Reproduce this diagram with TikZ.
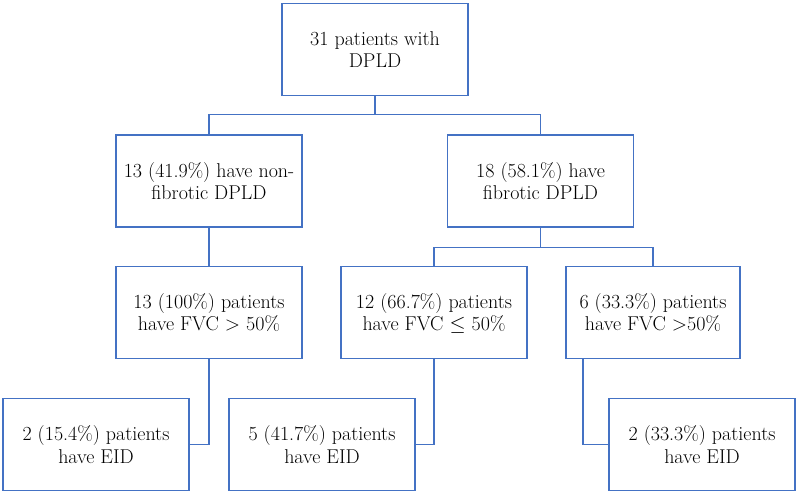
\documentclass[tikz,border=0pt]{standalone}
\usepackage{fontspec}
\usepackage{tikz}
\usetikzlibrary{positioning, calc}
\definecolor{boxblue}{HTML}{4472C4}

\begin{document}
\begin{tikzpicture}[x=1pt, y=-1pt,
        box/.style={rectangle, draw=boxblue, line width=1.4pt, minimum width=186pt, minimum height=92pt, inner sep=0pt, align=center, font=\fontsize{20}{22.5}\selectfont},
        link/.style={draw=boxblue, line width=1.4pt}]
        \useasboundingbox (0,0) rectangle (797,493);
        % Top node
        \node[box] (total) at (375,49.5) {31 patients with\\DPLD};
        
        % Type nodes
        \node[box] (nonfib) at (209,181) {13 (41.9\%) have non-\\fibrotic DPLD};
        \node[box] (fib) at (540.5,181) {18 (58.1\%) have\\fibrotic DPLD};
        
        % FVC nodes
        \node[box] (fvcA) at (209,312.5) {13 (100\%) patients\\have FVC > 50\%};
        \node[box] (fvcB) at (434,312.5) {12 (66.7\%) patients\\have FVC \smash{$\leq$} 50\%};
        \node[box, minimum width=174pt] (fvcC) at (653,312.5) {6 (33.3\%) patients\\have FVC >50\%};
        
        % EID nodes
        \node[box] (eidA) at (96,444.5) {2 (15.4\%) patients\\have EID};
        \node[box] (eidB) at (322,444.5) {5 (41.7\%) patients\\have EID};
        \node[box] (eidC) at (702,444.5) {2 (33.3\%) patients\\have EID};
        
        % Lines
        \draw[link] (total.south) -- ++(0,18) -| (nonfib.north);
        \draw[link] (total.south) -- ++(0,18) -| (fib.north);
        \draw[link] (nonfib.south) -- (fvcA.north);
        \draw[link] (fib.south) -- ++(0,20) -| (fvcB.north);
        \draw[link] (fib.south) -- ++(0,20) -| (fvcC.north);
        \draw[link] (fvcA.south) |- (eidA.east);
        \draw[link] (fvcB.south) |- (eidB.east);
        \draw[link] ([xshift=-70pt]fvcC.south) |- (eidC.west);
    \end{tikzpicture}
\end{document}
